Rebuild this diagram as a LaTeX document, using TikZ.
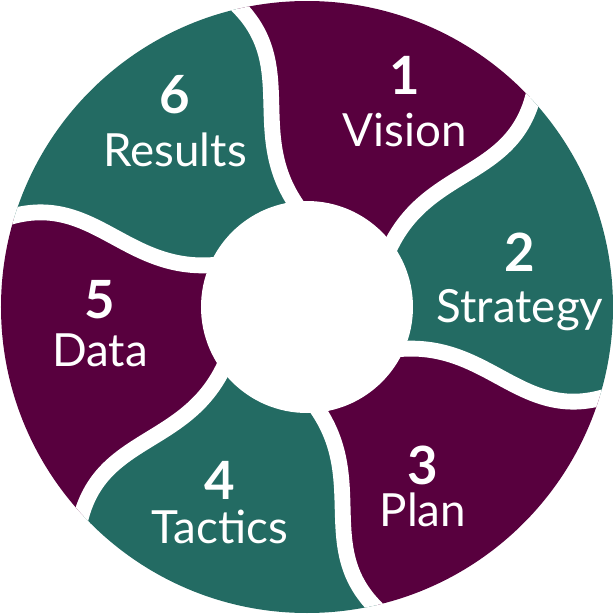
\documentclass[tikz,border=0pt]{standalone}
\usepackage{fontspec}
\setmainfont{Lato}
\definecolor{pur}{RGB}{88,0,62}
\definecolor{tea}{RGB}{35,107,99}
\begin{document}
\begin{tikzpicture}[
  lab/.style={text=white, align=center, font=\fontsize{13}{15}\selectfont, inner sep=0pt},
  num/.style={text=white, font=\fontsize{15}{17}\selectfont\bfseries, inner sep=0pt}]
\useasboundingbox (-3.07,-3.07) rectangle (3.07,3.07);
\clip (0,0) circle (3.06);
\foreach \pa/\c in {105/pur,45/tea,-15/pur,-75/tea,-135/pur,-195/tea}{
  \pgfmathsetmacro\pb{\pa-60}
  \pgfmathsetmacro\ba{\pa-10}
  \pgfmathsetmacro\bb{\pb-10}
  \fill[\c] (\bb:1.05) .. controls (\bb+15:1.9) and (\pb-15:2.5) .. (\pb:3.2)
    arc[start angle=\pb, end angle=\pa, radius=3.2]
    .. controls (\pa-15:2.5) and (\ba+15:1.9) .. (\ba:1.05)
    arc[start angle=\ba, end angle=\bb, radius=1.05] -- cycle;
}
\foreach \pa in {105,45,-15,-75,-135,-195}{
  \pgfmathsetmacro\ba{\pa-10}
  \draw[white, line width=4.5pt] (\ba:1.0) .. controls (\ba+15:1.9) and (\pa-15:2.5) .. (\pa:3.25);
}
\fill[white] (0,0) circle (1.06);
\node[num] (n1) at (0.98,2.32) {1}; \node[lab] (t1) at (0.98,1.77) {Vision};
\node[num] (n2) at (2.13,0.55) {2}; \node[lab] (t2) at (2.13,-0.03) {Strategy};
\node[num] (n3) at (1.16,-1.58) {3}; \node[lab] (t3) at (1.16,-2.03) {Plan};
\node[num] (n4) at (-0.87,-1.73) {4}; \node[lab] (t4) at (-0.87,-2.2) {Tactics};
\node[num] (n5) at (-2.07,0.07) {5}; \node[lab] (t5) at (-2.07,-0.43) {Data};
\node[num] (n6) at (-1.32,2.12) {6}; \node[lab] (t6) at (-1.32,1.57) {Results};
\end{tikzpicture}
\end{document}
